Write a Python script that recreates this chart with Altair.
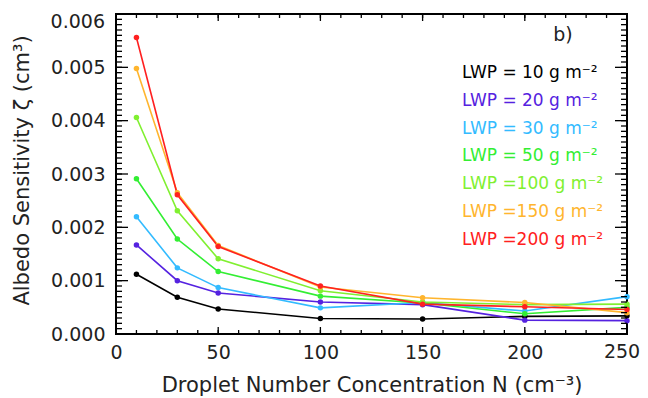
import altair as alt
import pandas as pd

N = [10, 30, 50, 100, 150, 200, 250]
labels = ["LWP = 10 g m⁻²", "LWP = 20 g m⁻²", "LWP = 30 g m⁻²", "LWP = 50 g m⁻²",
          "LWP =100 g m⁻²", "LWP =150 g m⁻²", "LWP =200 g m⁻²"]
colors = ["#000000", "#5522e0", "#33bbff", "#33ee33", "#80f030", "#ffb52e", "#ff2020"]

s10 = [0.00112, 0.00069, 0.00047, 0.00029, 0.00028, 0.00033, 0.00034]
s20 = [0.00167, 0.00100, 0.00077, 0.00060, 0.00055, 0.00026, 0.00025]
s30 = [0.00220, 0.00124, 0.00087, 0.00049, 0.00059, 0.00043, 0.00070]
s50 = [0.00291, 0.00178, 0.00117, 0.00071, 0.00058, 0.00038, 0.00050]
s100 = [0.00406, 0.00231, 0.00141, 0.00081, 0.00060, 0.00055, 0.00056]
s150 = [0.00498, 0.00265, 0.00166, 0.00088, 0.00068, 0.00059, 0.00040]
s200 = [0.00556, 0.00261, 0.00164, 0.00090, 0.00056, 0.00051, 0.00046]
series = [s10, s20, s30, s50, s100, s150, s200]

x_minor = list(range(0, 251, 10))
x_major = [0, 50, 100, 150, 200, 250]
y_minor = [round(i * 0.0001, 4) for i in range(0, 61)]
y_major = [0.0, 0.001, 0.002, 0.003, 0.004, 0.005, 0.006]

W, H = 511, 320
FONT = "DejaVu Sans"
LABEL_COLOR = "#222"

rows = []
for k, (lab, vals) in enumerate(zip(labels, series)):
    for n, v in zip(N, vals):
        rows.append({"N": n, "S": v, "lwp": lab, "k": k})
df = pd.DataFrame(rows)

xs = alt.Scale(domain=[0, 250], nice=False, zero=False)
ys = alt.Scale(domain=[0, 0.006], nice=False, zero=False)
cs = alt.Scale(domain=labels, range=colors)

xaxis = alt.Axis(
    title="Droplet Number Concentration N (cm⁻³)", values=x_major[:-1], format="d",
    labelFlush=False, labelOverlap=False,
    titleX=W / 2, titleY=51, titleBaseline="middle", titleAnchor="middle")
yaxis = alt.Axis(
    title="Albedo Sensitivity ζ (cm³)", values=y_major[:-1], format=".3f",
    labelFlush=False, labelOverlap=False,
    titleX=-94, titleY=156, titleAngle=-90, titleBaseline="middle",
    titleAlign="center", titleAnchor="middle")

base = alt.Chart(df)
lines = base.mark_line(strokeWidth=1.6).encode(
    x=alt.X("N:Q", scale=xs, axis=xaxis),
    y=alt.Y("S:Q", scale=ys, axis=yaxis),
    color=alt.Color("lwp:N", scale=cs, legend=None),
    order=alt.Order("k:Q"),
    detail="k:Q",
)
points = base.mark_point(filled=True, size=30, opacity=1).encode(
    x=alt.X("N:Q", scale=xs, axis=xaxis),
    y=alt.Y("S:Q", scale=ys, axis=yaxis),
    color=alt.Color("lwp:N", scale=cs, legend=None),
    order=alt.Order("k:Q"),
)

def xrule(vals, y0, y1):
    return alt.Chart(pd.DataFrame({"N": vals})).mark_rule(color="black", strokeWidth=1.3).encode(
        x=alt.X("N:Q", scale=xs, axis=xaxis), y=alt.value(y0), y2=alt.value(y1))

def yrule(vals, x0, x1):
    return alt.Chart(pd.DataFrame({"S": vals})).mark_rule(color="black", strokeWidth=1.3).encode(
        y=alt.Y("S:Q", scale=ys, axis=yaxis), x=alt.value(x0), x2=alt.value(x1))

ticks = [
    xrule(x_minor, H, H - 4), xrule(x_major, H, H - 7),
    xrule(x_minor, 0, 4), xrule(x_major, 0, 7),
    yrule(y_minor, 0, 6), yrule(y_major, 0, 12),
    yrule(y_minor, W, W - 6), yrule(y_major, W, W - 12),
]

# end tick labels kept inside the page, as in the reference
top_label = alt.Chart(pd.DataFrame({"S": [y_major[-1]], "t": ["0.006"]})).mark_text(
    align="right", baseline="top", font=FONT, fontSize=19, color=LABEL_COLOR, dy=-1).encode(
    y=alt.Y("S:Q", scale=ys, axis=yaxis), x=alt.value(-11), text="t:N")
right_label = alt.Chart(pd.DataFrame({"N": [x_major[-1]], "t": ["250"]})).mark_text(
    align="center", baseline="top", font=FONT, fontSize=19, color=LABEL_COLOR, dx=-5).encode(
    x=alt.X("N:Q", scale=xs, axis=xaxis), y=alt.value(H + 9), text="t:N")

leg_df = pd.DataFrame({"lwp": labels, "i": list(range(len(labels)))})
legend = alt.Chart(leg_df).transform_calculate(py="59 + datum.i * 27.8").mark_text(
    align="left", baseline="middle", font=FONT, fontSize=17).encode(
    x=alt.value(346), y=alt.Y("py:Q", scale=None),
    text="lwp:N", color=alt.Color("lwp:N", scale=cs, legend=None))

panel = alt.Chart(pd.DataFrame({"t": ["b)"]})).mark_text(
    align="center", baseline="middle", font=FONT, fontSize=19, color=LABEL_COLOR).encode(
    x=alt.value(447), y=alt.value(21), text="t:N")

chart = alt.layer(lines, points, *ticks, top_label, right_label, legend, panel).properties(
    width=W, height=H,
    autosize=alt.AutoSizeParams(type="none"),
    padding={"left": 108, "top": 6, "right": 13, "bottom": 62},
).configure_view(stroke="black", strokeWidth=2).configure_axis(
    ticks=False, domain=False, grid=False, labelFont=FONT, titleFont=FONT,
    labelFontSize=19, titleFontSize=21, labelColor=LABEL_COLOR, titleColor=LABEL_COLOR,
    titleFontWeight="normal",
).configure_axisY(labelPadding=11).configure_axisX(labelPadding=9)

chart.save("out.html", embed_options={"renderer": "svg", "actions": False})
